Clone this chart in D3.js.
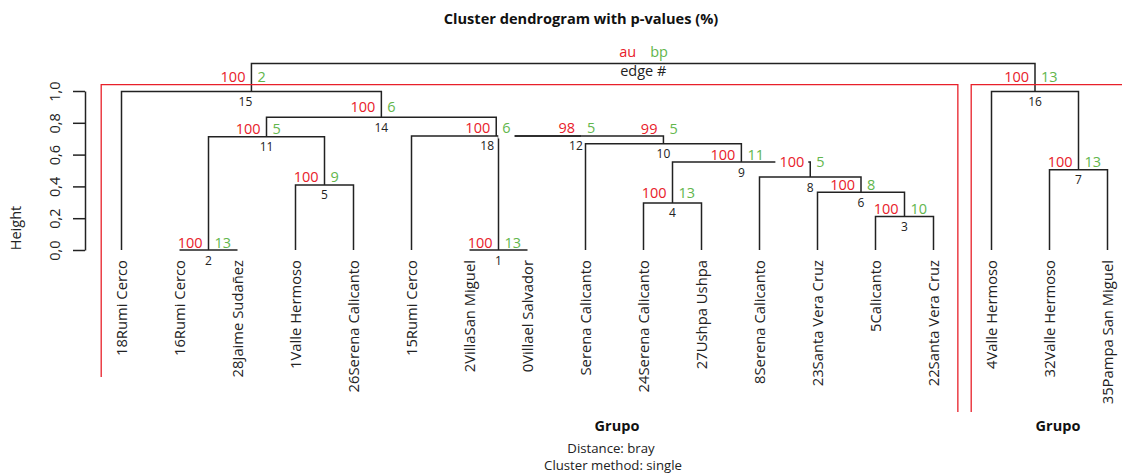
<!DOCTYPE html>
<html><head><meta charset="utf-8">
<script src="https://cdn.jsdelivr.net/npm/d3@7"></script>
<style>
html,body{margin:0;padding:0;background:#fff;}
svg{display:block;font-family:"Open Sans","Noto Sans",sans-serif;}
</style></head>
<body>
<svg id="chart" width="1122" height="476"></svg>
<script>
// ---------- DATA ----------
const leaves = ["18Rumi Cerco","16Rumi Cerco","28Jaime Sudañez","1Valle Hermoso","26Serena Calicanto",
  "15Rumi Cerco","2VillaSan Miguel","0Villael Salvador","Serena Calicanto","24Serena Calicanto",
  "27Ushpa Ushpa","8Serena Calicanto","23Santa Vera Cruz","5Calicanto","22Santa Vera Cruz",
  "4Valle Hermoso","32Valle Hermoso","35Pampa San Miguel"];
// merges: children as "L<i>" (leaf index) or "N<edge#>" (node), in merge order
const nodeIds    = [1, 2, 3, 4, 5, 6, 7, 8, 9, 10, 11, 12, 18, 14, 15, 16, 17];
const leftChild  = ["L6","L1","L13","L9","L3","L12","L16","L11","N4","L8","N2","N1","L5","N11","L0","L15","N15"];
const rightChild = ["L7","L2","L14","L10","L4","N3","L17","N6","N8","N9","N5","N10","N12","N18","N14","N7","N16"];
const heights    = [0, 0, 0.21, 0.296, 0.409, 0.363, 0.505, 0.459, 0.553, 0.669, 0.713, 0.717, 0.717, 0.835, 0.997, 0.997, 1.173];
const auValues   = [100,100,100,100,100,100,100,100,100,99,100,98,100,100,100,100,null];
const bpValues   = [13, 13, 10, 13, 9, 8, 13, 5, 11, 5, 5, 5, 6, 6, 2, 13, null];
const tickValues = [0, 0.2, 0.4, 0.6, 0.8, 1.0];
const tickLabels = ["0,0","0,2","0,4","0,6","0,8","1,0"];
const clusterFrom = [0, 15];
const clusterTo   = [14, 17];
const rootId = 17;

// ---------- STYLE / LAYOUT ----------
const RED = "#e8202a", GREEN = "#62b64c", INK = "#222";
const labelLift = {15:-9, 16:-9, 8:-10, 10:-10, 14:-5, 4:-5};   // au/bp baseline offsets
const edgeShift = {18:-9, 12:-5, 15:-6};                          // edge # horizontal nudges
const boxed = {"18-bp":true, "8-au":true};                        // labels drawn on white boxes

const svg = d3.select("#chart");
const x = d3.scaleLinear().domain([0, leaves.length - 1]).range([121.5, 1107.5]);
const y = d3.scaleLinear().domain([0, 1]).range([250, 91]);

// compute node positions
const pos = {};
leaves.forEach((l, i) => pos["L" + i] = {x: x(i), h: 0});
nodeIds.forEach((id, k) => {
  const a = pos[leftChild[k]], b = pos[rightChild[k]];
  pos["N" + id] = {x: (a.x + b.x) / 2, h: heights[k]};
});

// ---------- TREE LINES ----------
const gTree = svg.append("g").attr("fill", "none").attr("stroke", INK).attr("stroke-width", 1.5);
nodeIds.forEach((id, k) => {
  const a = pos[leftChild[k]], b = pos[rightChild[k]], h = heights[k];
  gTree.append("path").attr("d",
    `M${a.x},${y(a.h)}V${y(h)}H${b.x}V${y(b.h)}`);
});

// ---------- AXIS ----------
const axis = d3.axisLeft(y).tickValues(tickValues)
  .tickFormat((d, i) => tickLabels[i]).tickSize(12).tickSizeOuter(0);
const gAxis = svg.append("g").attr("transform", "translate(85,0)").call(axis);
gAxis.select(".domain").attr("stroke", INK).attr("stroke-width", 1.5);
gAxis.selectAll(".tick line").attr("stroke", INK).attr("stroke-width", 1.5);
gAxis.selectAll(".tick text")
  .attr("x", null).attr("dy", null).attr("y", 0)
  .attr("text-anchor", "middle")
  .attr("transform", "translate(-25,0) rotate(-90)")
  .attr("font-size", 14.5).attr("font-family", "Open Sans").attr("fill", INK);

svg.append("text").attr("transform", "translate(21,228) rotate(-90)")
  .attr("text-anchor", "middle").attr("font-size", 14.5).attr("fill", INK).text("Height");

// ---------- LEAF LABELS ----------
svg.append("g").selectAll("text").data(leaves).join("text")
  .attr("transform", (d, i) => `translate(${x(i)},260) rotate(-90)`)
  .attr("text-anchor", "end").attr("dy", "0.35em")
  .attr("font-size", 14.8).attr("fill", INK).text(d => d);

// ---------- CLUSTER RECTANGLES ----------
const step = x(1) - x(0);
const gRect = svg.append("g").attr("fill", "none").attr("stroke", RED).attr("stroke-width", 1.3);
const topH = 1.04;
clusterFrom.forEach((f, i) => {
  const x1 = x(f) - 0.35 * step, x2 = x(clusterTo[i]) + 0.42 * step;
  const leftBottom = i === 0 ? 377 : 412;
  gRect.append("path").attr("d", `M${x1},${leftBottom}V${y(topH)}H${x2}V412`);
});

// ---------- NODE LABELS ----------
const gLab = svg.append("g");
function addLabel(txt, px, py, anchor, color, size, key) {
  const g = gLab.append("g");
  const t = g.append("text").attr("x", px).attr("y", py).attr("text-anchor", anchor)
    .attr("font-size", size).attr("fill", color).text(txt);
  if (boxed[key]) {
    const bb = t.node().getBBox();
    g.insert("rect", "text").attr("x", bb.x - 4).attr("y", bb.y)
      .attr("width", bb.width + 8).attr("height", bb.height + 1).attr("fill", "#fff");
  }
}
nodeIds.forEach((id, k) => {
  const p = pos["N" + id], ny = y(p.h);
  if (id === rootId) {
    addLabel("au", p.x - 7, ny - 6.5, "end", RED, 14.5, "");
    addLabel("bp", p.x + 7, ny - 6.5, "start", GREEN, 14.5, "");
    addLabel("edge #", p.x, ny + 13, "middle", INK, 14.5, "");
    return;
  }
  const lift = labelLift[id] !== undefined ? labelLift[id] : -2.5;
  addLabel(String(auValues[k]), p.x - 6, ny + lift, "end", RED, 14.5, id + "-au");
  addLabel(String(bpValues[k]), p.x + 6, ny + lift, "start", GREEN, 14.5, id + "-bp");
  addLabel(String(id), p.x + (edgeShift[id] || 0), ny + 14.5, "middle", INK, 12, id + "-edge");
});

// ---------- TITLES ----------
svg.append("text").attr("x", 581).attr("y", 24).attr("text-anchor", "middle")
  .attr("font-size", 14.6).attr("font-weight", "bold").attr("fill", "#111")
  .text("Cluster dendrogram with p-values (%)");
svg.append("text").attr("x", 617).attr("y", 431).attr("text-anchor", "middle")
  .attr("font-size", 14.5).attr("font-weight", "bold").attr("fill", "#111").text("Grupo");
svg.append("text").attr("x", 1058).attr("y", 431).attr("text-anchor", "middle")
  .attr("font-size", 14.5).attr("font-weight", "bold").attr("fill", "#111").text("Grupo");
svg.append("text").attr("x", 611).attr("y", 453).attr("text-anchor", "middle")
  .attr("font-size", 13.2).attr("fill", INK).text("Distance: bray");
svg.append("text").attr("x", 613).attr("y", 470).attr("text-anchor", "middle")
  .attr("font-size", 13.2).attr("fill", INK).text("Cluster method: single");
</script>
</body></html>
